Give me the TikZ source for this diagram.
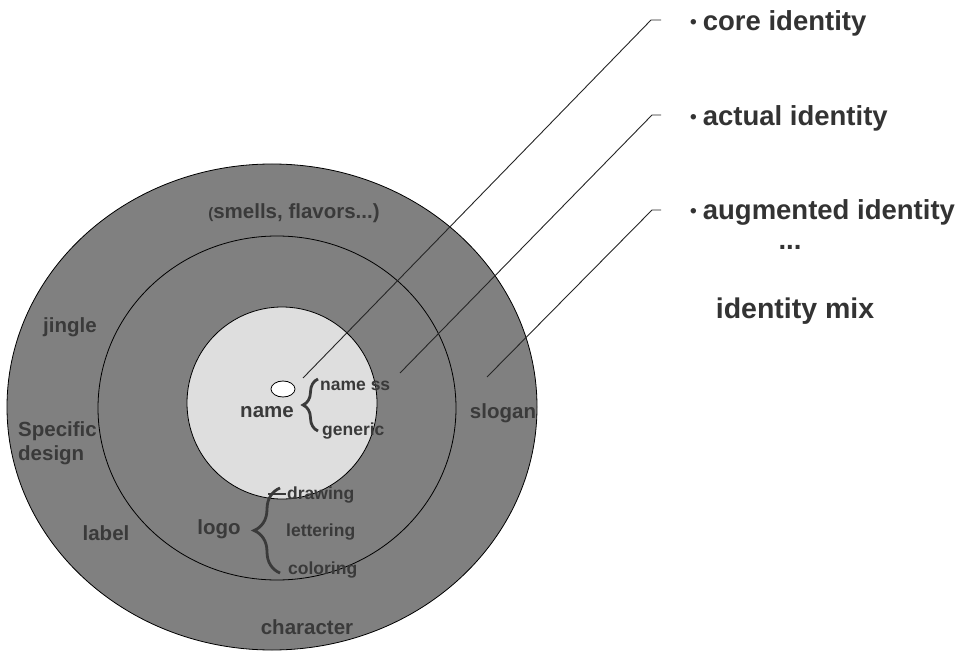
\documentclass[tikz,border=0pt]{standalone}
\usepackage{fontspec}
\setmainfont{Liberation Sans}
\usetikzlibrary{decorations.pathreplacing,shapes.geometric}
\definecolor{ringgray}{HTML}{808080}
\definecolor{coregray}{HTML}{DEDEDE}
\definecolor{ink}{HTML}{3A3A3A}
\definecolor{sideink}{HTML}{333333}
\newcommand{\smallbullet}{{\fontsize{19}{20}\selectfont\raisebox{1.5pt}{•}}\hspace{6pt}}
\begin{document}
\begin{tikzpicture}[x=1pt,y=-1pt,
  ring/.style={draw=black, line width=0.8pt},
  lbl/.style={font=\fontsize{20.5}{24}\selectfont\bfseries, text=ink, inner sep=0pt},
  sublbl/.style={font=\fontsize{17.5}{21}\selectfont\bfseries, text=ink, inner sep=0pt},
  side/.style={font=\fontsize{27.5}{32}\selectfont\bfseries, text=sideink, inner sep=0pt},
  leader/.style={draw=black!85, line width=0.9pt},
  bracket/.style={draw=ink, line width=2.8pt, decorate, decoration={brace, amplitude=#1}}
]
\useasboundingbox (0,0) rectangle (963,652);
\fill[white] (0,0) rectangle (963,652);

% three nested identity zones
\draw[ring, fill=ringgray] (272,407) ellipse [x radius=265pt, y radius=243pt];
\draw[ring, fill=ringgray] (277,408) ellipse [x radius=179pt, y radius=172pt];
\draw[ring, fill=coregray] (282,403) ellipse [x radius=95pt, y radius=96pt];
\node[shape=ellipse, draw=black, line width=0.8pt, fill=white, minimum width=24pt, minimum height=16pt, inner sep=0pt] (core) at (283,389) {};

% zone labels
\node[lbl] (smells) at (294,213) {\fontsize{15}{18}\selectfont(\fontsize{20.5}{24}\selectfont smells, flavors...)};
\node[lbl] (jingle) at (70,327) {jingle};
\node[lbl, anchor=west, align=left] (specific) at (18,443) {Specific\\[-0.5pt]design};
\node[lbl] (label) at (106,533) {label};
\node[lbl] (character) at (307,627) {character};
\node[lbl] (slogan) at (503,413) {slogan};
\node[lbl] (name) at (267,412) {name};
\node[lbl] (logo) at (219,529) {logo};

% sub-labels grouped by braces
\draw[bracket=15] (318,431) -- (318,379);
\node[sublbl, anchor=west] (nameless) at (320,386) {name ss};
\node[sublbl, anchor=west] (generic) at (322,431) {generic};

\draw[bracket=26] (280,573) -- (280,488);
\draw[draw=ink, line width=1.4pt] (268,494) -- (286,494);
\node[sublbl, anchor=west] (drawing) at (287,495) {drawing};
\node[sublbl, anchor=west] (lettering) at (286,532) {lettering};
\node[sublbl, anchor=west] (coloring) at (288,570) {coloring};

% identity levels on the right
\node[side, anchor=west] (coreid) at (690,23) {\smallbullet core identity};
\node[side, anchor=west] (actualid) at (690,118) {\smallbullet actual identity};
\node[side, anchor=west] (augid) at (690,212) {\smallbullet augmented identity};
\node[side] (dots) at (790,247) {...};
\node[side, font=\fontsize{28.5}{33}\selectfont\bfseries] (mix) at (795,311) {identity mix};

% leader lines from each zone to its level
\coordinate (s1) at (303,378);
\coordinate (k1) at (651,20);
\coordinate (e1) at (661,20);
\coordinate (s2) at (400,373);
\coordinate (k2) at (652,115);
\coordinate (e2) at (661,115);
\coordinate (s3) at (487,377);
\coordinate (k3) at (652,210);
\coordinate (e3) at (661,210);
\draw[leader] (s1) -- (k1) -- (e1);
\draw[leader] (s2) -- (k2) -- (e2);
\draw[leader] (s3) -- (k3) -- (e3);
\end{tikzpicture}
\end{document}
